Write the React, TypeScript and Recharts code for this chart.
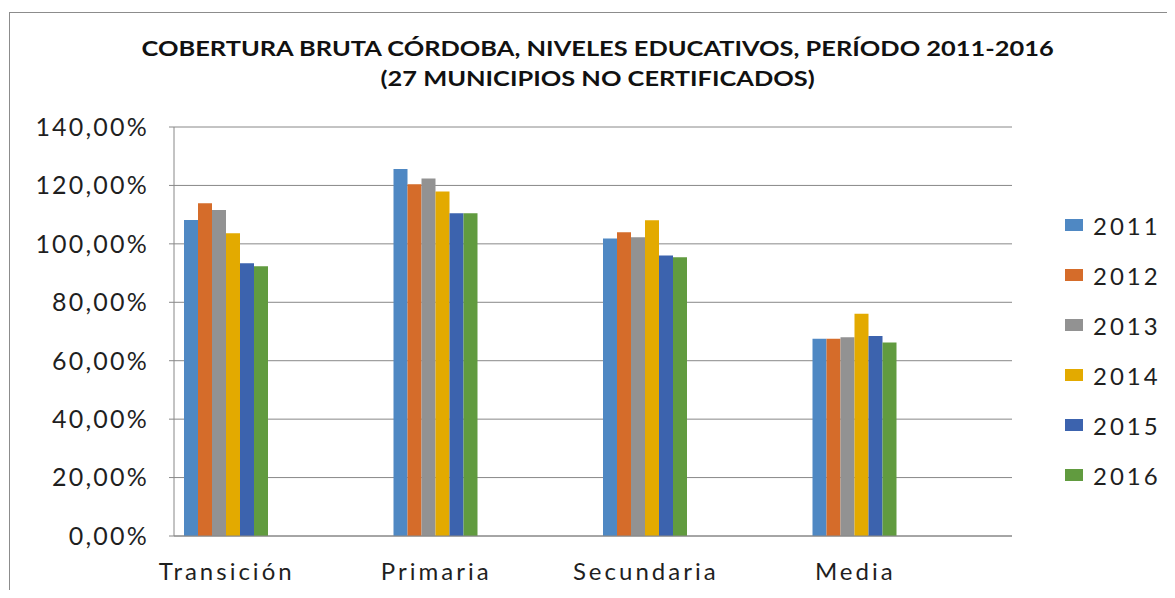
import React from "react";
import { BarChart, Bar, XAxis, YAxis, CartesianGrid } from "recharts";

const categories = ["Transición", "Primaria", "Secundaria", "Media"];
const years = ["2011", "2012", "2013", "2014", "2015", "2016"];

const v2011 = [108.2, 125.6, 101.8, 67.5];
const v2012 = [113.9, 120.4, 104.0, 67.5];
const v2013 = [111.6, 122.4, 102.3, 68.0];
const v2014 = [103.6, 117.9, 108.1, 76.1];
const v2015 = [93.4, 110.5, 96.0, 68.5];
const v2016 = [92.3, 110.5, 95.4, 66.2];

const yTicks = [0, 20, 40, 60, 80, 100, 120, 140];

const colors = {
  "2011": "#4f88c3",
  "2012": "#d56c2a",
  "2013": "#929292",
  "2014": "#e3aa00",
  "2015": "#3c63ae",
  "2016": "#619b3f",
};

const seriesValues = [v2011, v2012, v2013, v2014, v2015, v2016];

const data = categories.map((name, i) => {
  const row: any = { name };
  years.forEach((y, k) => {
    row[y] = seriesValues[k][i];
  });
  return row;
});

const font = "Lato, 'Open Sans', sans-serif";
const gridColor = "#888888";
const textColor = "#1f1f1f";

const fmt = (v: number) => `${v.toFixed(2).replace(".", ",")}%`;

export default function App() {
  return (
    <div
      style={{
        position: "relative",
        width: 1175,
        height: 598,
        margin: -8,
        overflow: "hidden",
        background: "#fff",
        fontFamily: font,
      }}
    >
      <div
        style={{
          position: "absolute",
          left: 9,
          top: 12,
          width: 1200,
          height: 620,
          border: "1px solid #8c8c8c",
        }}
      />
      <div
        style={{
          position: "absolute",
          left: 0,
          width: 1195,
          top: 33,
          textAlign: "center",
          fontWeight: 700,
          fontSize: 20,
          lineHeight: "30px",
          color: "#111",
          transform: "scaleX(1.27)",
          transformOrigin: "597px 0",
        }}
      >
        COBERTURA BRUTA CÓRDOBA, NIVELES EDUCATIVOS, PERÍODO 2011-2016
        <br />
        (27 MUNICIPIOS NO CERTIFICADOS)
      </div>

      <div style={{ position: "absolute", left: 0, top: 0 }}>
        <BarChart
          width={1175}
          height={598}
          data={data}
          margin={{ top: 127, right: 163, left: 0, bottom: 0 }}
          barCategoryGap={62}
          barGap={0}
        >
          <CartesianGrid vertical={false} stroke={gridColor} />
          <XAxis
            dataKey="name"
            height={62}
            padding={{ left: -52, right: 52 }}
            axisLine={{ stroke: gridColor }}
            tickLine={false}
            tickMargin={21}
            tick={{ fontSize: 24, fill: textColor, fontFamily: font, letterSpacing: 3 }}
          />
          <YAxis
            width={174}
            domain={[0, 140]}
            ticks={yTicks}
            tickFormatter={fmt}
            axisLine={{ stroke: gridColor }}
            tickLine={{ stroke: gridColor }}
            tickSize={5}
            tickMargin={20}
            tick={{ fontSize: 25, fill: textColor, fontFamily: font, letterSpacing: 2.2 }}
          />
          {years.map((y) => (
            <Bar key={y} dataKey={y} fill={colors[y as keyof typeof colors]} isAnimationActive={false} />
          ))}
        </BarChart>
      </div>

      <div style={{ position: "absolute", left: 1065, top: 200 }}>
        {years.map((y) => (
          <div key={y} style={{ display: "flex", alignItems: "center", height: 50 }}>
            <div
              style={{
                width: 18,
                height: 12,
                background: colors[y as keyof typeof colors],
                marginRight: 10,
              }}
            />
            <span style={{ fontSize: 24, color: textColor, letterSpacing: 3 }}>{y}</span>
          </div>
        ))}
      </div>
    </div>
  );
}
